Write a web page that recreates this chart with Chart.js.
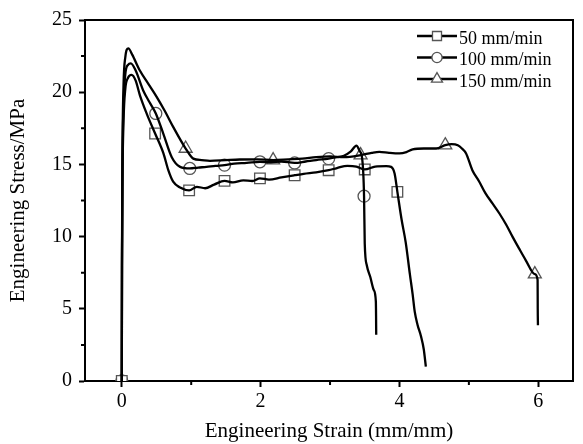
<!DOCTYPE html>
<html>
<head>
<meta charset="utf-8">
<script src="https://cdn.jsdelivr.net/npm/chart.js@4.4.1/dist/chart.umd.min.js"></script>
<style>
  html, body { margin: 0; padding: 0; background: #fff; }
  canvas { display: block; }
</style>
</head>
<body>
<canvas id="c" width="583" height="444"></canvas>
<script>
// Loading rates
const seriesNames = ['50 mm/min', '100 mm/min', '150 mm/min'];

// 50 mm/min: engineering strain (mm/mm) and stress (MPa)
const strain50 = [0, 0.003, 0.01, 0.025, 0.05, 0.09, 0.14, 0.2, 0.26, 0.36,
  0.48, 0.6, 0.67, 0.74, 0.84, 0.97, 1.08, 1.2, 1.33, 1.48,
  1.6, 1.75, 1.88, 1.99, 2.12, 2.3, 2.49, 2.62, 2.8, 2.98,
  3.1, 3.25, 3.38, 3.5, 3.65, 3.81, 3.88, 3.93, 3.97, 4.03,
  4.09, 4.15, 4.19, 4.22, 4.26, 4.31, 4.35, 4.38];
const stress50 = [0, 8, 14, 18, 20.2, 21.0, 21.2, 20.8, 19.8, 18.5,
  17.14, 15.76, 14.6, 13.8, 13.4, 13.2, 13.45, 13.35, 13.6, 13.86,
  13.75, 13.9, 13.85, 14.03, 13.95, 14.1, 14.25, 14.35, 14.45, 14.6,
  14.75, 14.9, 14.85, 14.65, 14.85, 14.88, 14.83, 14.37, 13.1, 11.2,
  9.6, 7.4, 6.0, 4.8, 3.9, 3.1, 2.2, 1.0];
const marks50 = [0, 0.48, 0.97, 1.48, 1.99, 2.49, 2.98, 3.5, 3.97];

// 100 mm/min
const strain100 = [0, 0.003, 0.01, 0.025, 0.05, 0.09, 0.13, 0.2, 0.31, 0.4,
  0.49, 0.6, 0.72, 0.84, 0.98, 1.1, 1.22, 1.35, 1.48, 1.62,
  1.8, 1.99, 2.15, 2.3, 2.49, 2.65, 2.8, 2.98, 3.1, 3.2,
  3.3, 3.38, 3.43, 3.46, 3.49, 3.5, 3.53, 3.58, 3.63, 3.66,
  3.663, 3.665];
const stress100 = [0, 8, 15, 19, 21.2, 21.9, 22.0, 21.5, 20.1, 19.3,
  18.53, 17.1, 15.5, 14.83, 14.72, 14.78, 14.83, 14.9, 14.95, 15.05,
  15.1, 15.18, 15.15, 15.2, 15.1, 15.2, 15.3, 15.4, 15.5, 15.6,
  15.9, 16.3, 15.9, 15.5, 12.8, 9.5, 8.0, 7.2, 6.3, 5.5,
  4.5, 3.2];
const marks100 = [0, 0.49, 0.98, 1.48, 1.99, 2.49, 2.98, 3.49];

// 150 mm/min
const strain150 = [0, 0.003, 0.01, 0.025, 0.05, 0.095, 0.15, 0.26, 0.38, 0.5,
  0.62, 0.74, 0.92, 1.03, 1.15, 1.27, 1.5, 1.7, 1.95, 2.18,
  2.4, 2.6, 2.8, 3.0, 3.2, 3.44, 3.6, 3.71, 3.85, 4.0,
  4.1, 4.19, 4.35, 4.53, 4.66, 4.75, 4.84, 4.9, 4.96, 5.05,
  5.15, 5.24, 5.34, 5.44, 5.54, 5.63, 5.72, 5.82, 5.95, 5.99,
  5.992, 5.995];
const stress150 = [0, 9, 16, 20.5, 22.4, 23.03, 22.6, 21.5, 20.6, 19.7,
  18.7, 17.6, 16.1, 15.4, 15.3, 15.25, 15.3, 15.34, 15.35, 15.3,
  15.35, 15.4, 15.5, 15.55, 15.5, 15.64, 15.8, 15.87, 15.8, 15.76,
  15.85, 16.04, 16.1, 16.1, 16.33, 16.4, 16.33, 16.1, 15.76, 14.6,
  13.8, 12.99, 12.3, 11.6, 10.8, 9.98, 9.2, 8.36, 7.4, 7.0,
  5.0, 3.86];
const marks150 = [0, 0.92, 2.18, 3.44, 4.66, 5.95];

// Axis ticks
const xTicks = [0, 2, 4, 6];
const xMinorTicks = [1, 3, 5];
const yTicks = [0, 5, 10, 15, 20, 25];
const yMinorTicks = [2.5, 7.5, 12.5, 17.5, 22.5];

const FONT = "'Liberation Serif', 'Times New Roman', serif";
const markerStyles = ['rect', 'circle', 'triangle'];
const markerRadius = [7.5, 6, 7.5];
const markerEdge = '#555';

const toPoints = (xs, ys) => xs.map((v, i) => ({ x: v, y: ys[i] }));
const pickMarks = (xs, ys, marks) => marks.map(m => ({ x: m, y: ys[xs.indexOf(m)] }));

const curves = [
  toPoints(strain50, stress50),
  toPoints(strain100, stress100),
  toPoints(strain150, stress150)
];
const markerSets = [
  pickMarks(strain50, stress50, marks50),
  pickMarks(strain100, stress100, marks100),
  pickMarks(strain150, stress150, marks150)
];

const lineSets = curves.map((pts, i) => ({
  label: seriesNames[i],
  data: pts,
  borderColor: '#000',
  borderWidth: 2.3,
  pointRadius: 0,
  fill: false,
  cubicInterpolationMode: 'monotone'
}));
const pointSets = markerSets.map((pts, i) => ({
  label: seriesNames[i] + ' markers',
  data: pts,
  showLine: false,
  pointStyle: markerStyles[i],
  pointRadius: markerRadius[i],
  pointBackgroundColor: '#fff',
  pointBorderColor: markerEdge,
  pointBorderWidth: 1.3
}));

function drawMarker(ctx, style, r, x, y) {
  ctx.save();
  ctx.fillStyle = '#fff';
  ctx.strokeStyle = markerEdge;
  ctx.lineWidth = 1.3;
  ctx.beginPath();
  if (style === 'rect') {
    const s = Math.SQRT1_2 * r;
    ctx.rect(x - s, y - s, 2 * s, 2 * s);
  } else if (style === 'circle') {
    ctx.arc(x, y, r, 0, Math.PI * 2);
  } else {
    ctx.moveTo(x, y - r);
    ctx.lineTo(x + r * Math.sin(Math.PI * 2 / 3), y + r * 0.5);
    ctx.lineTo(x - r * Math.sin(Math.PI * 2 / 3), y + r * 0.5);
    ctx.closePath();
  }
  ctx.fill();
  ctx.stroke();
  ctx.restore();
}

// Closes the frame, adds minor ticks and the line-and-marker legend
const frameAndLegend = {
  id: 'frameAndLegend',
  afterDraw(chart) {
    const { ctx, chartArea: a, scales: { x, y } } = chart;
    ctx.save();
    ctx.strokeStyle = '#000';
    ctx.lineWidth = 2;
    ctx.beginPath();
    ctx.moveTo(a.left - 1, a.top);
    ctx.lineTo(a.right, a.top);
    ctx.lineTo(a.right, a.bottom + 1);
    ctx.stroke();

    ctx.beginPath();
    xMinorTicks.forEach(v => {
      const px = x.getPixelForValue(v);
      ctx.moveTo(px, a.bottom);
      ctx.lineTo(px, a.bottom + 4);
    });
    yMinorTicks.forEach(v => {
      const py = y.getPixelForValue(v);
      ctx.moveTo(a.left, py);
      ctx.lineTo(a.left - 4, py);
    });
    ctx.stroke();

    const lx0 = 417, lx1 = 457, tx = 459;
    ctx.font = '18px ' + FONT;
    ctx.textAlign = 'left';
    ctx.textBaseline = 'alphabetic';
    seriesNames.forEach((name, i) => {
      const base = 43.5 + i * 21.5;
      const ly = base - 7.5;
      ctx.strokeStyle = '#000';
      ctx.lineWidth = 2.3;
      ctx.beginPath();
      ctx.moveTo(lx0, ly);
      ctx.lineTo(lx1, ly);
      ctx.stroke();
      drawMarker(ctx, markerStyles[i], markerRadius[i] * 0.85, (lx0 + lx1) / 2, ly);
      ctx.fillStyle = '#000';
      ctx.fillText(name, tx, base);
    });
    ctx.restore();
  }
};

new Chart(document.getElementById('c'), {
  type: 'line',
  data: { datasets: [...lineSets, ...pointSets] },
  plugins: [frameAndLegend],
  options: {
    responsive: false,
    animation: false,
    layout: { padding: { left: 0, right: 10, top: 20, bottom: 0 } },
    plugins: { legend: { display: false }, tooltip: { enabled: false } },
    scales: {
      x: {
        type: 'linear',
        min: -0.53,
        max: 6.5,
        afterBuildTicks: s => { s.ticks = xTicks.map(v => ({ value: v })); },
        afterFit: s => { s.height = 63; },
        border: { color: '#000', width: 2 },
        grid: { drawOnChartArea: false, tickLength: 6, tickWidth: 2, tickColor: '#000' },
        ticks: { color: '#000', font: { family: FONT, size: 20 }, padding: 3, maxRotation: 0 },
        title: {
          display: true, text: 'Engineering Strain (mm/mm)', color: '#000',
          font: { family: FONT, size: 21 }, padding: { top: 0, bottom: 0 }
        }
      },
      y: {
        type: 'linear',
        min: 0,
        max: 25,
        afterBuildTicks: s => { s.ticks = yTicks.map(v => ({ value: v })); },
        afterFit: s => { s.width = 85; },
        border: { color: '#000', width: 2 },
        grid: { drawOnChartArea: false, tickLength: 6, tickWidth: 2, tickColor: '#000' },
        ticks: { color: '#000', font: { family: FONT, size: 20 }, padding: 7 },
        title: {
          display: true, text: 'Engineering Stress/MPa', color: '#000',
          font: { family: FONT, size: 21 }, padding: { top: 6, bottom: 0 }
        }
      }
    }
  }
});
</script>
</body>
</html>
